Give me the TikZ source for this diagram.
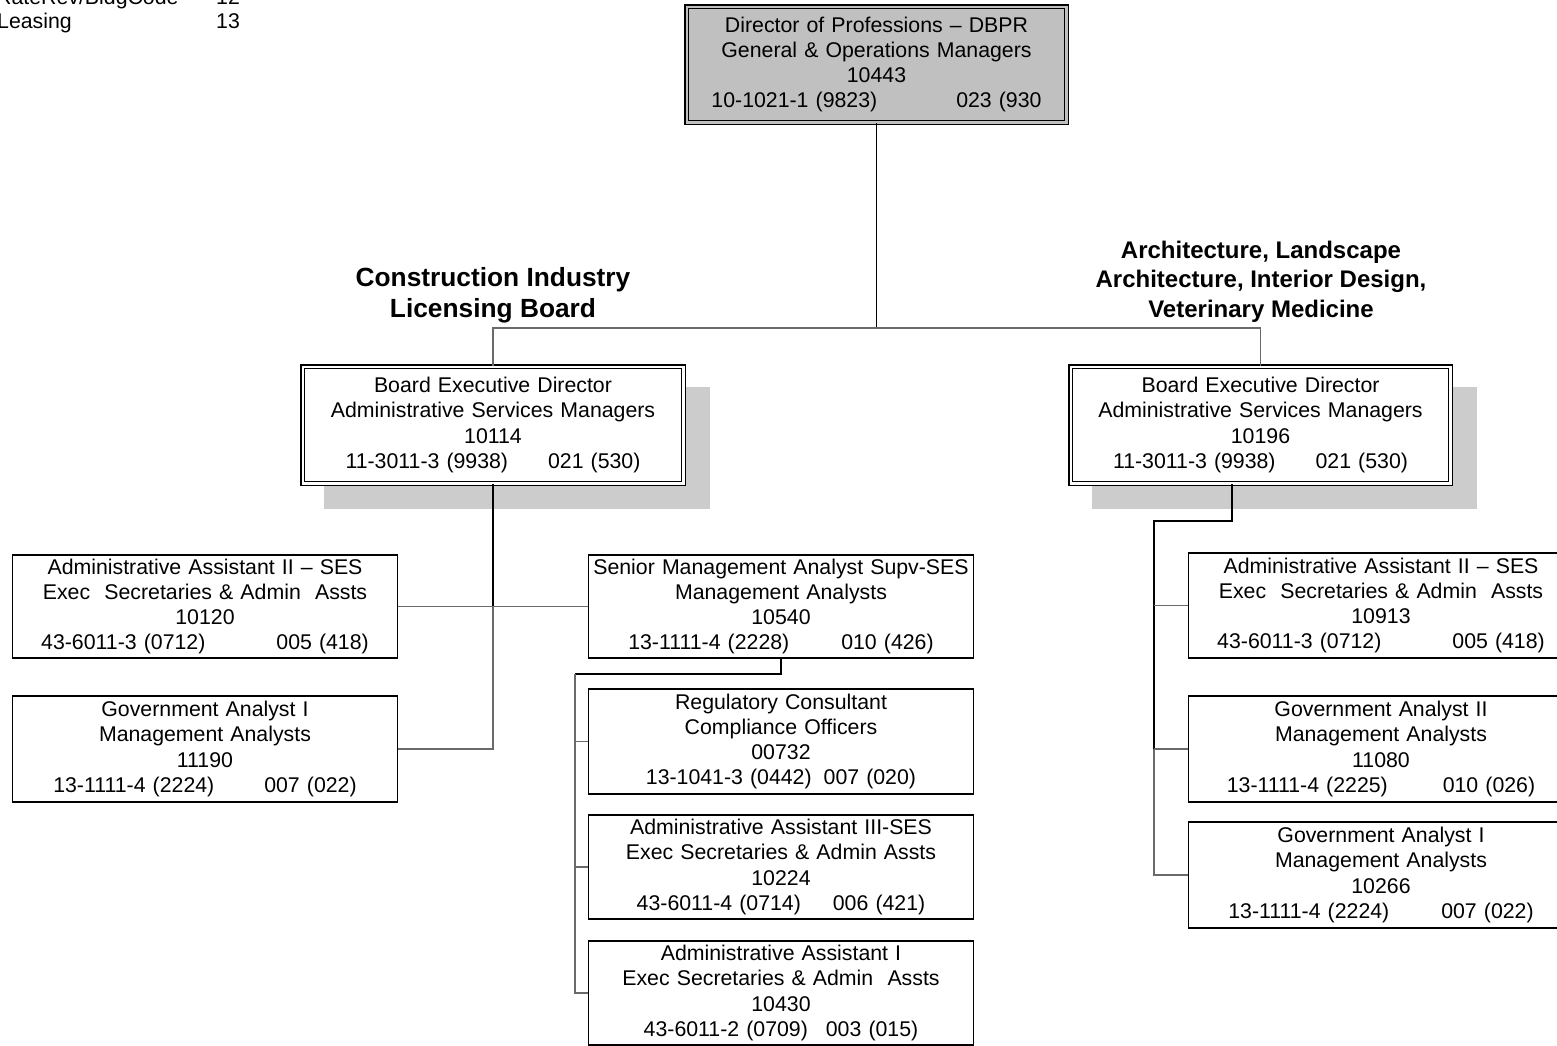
\documentclass[tikz,border=0pt]{standalone}
\usepackage{fontspec}
\setmainfont{Liberation Sans}
\definecolor{topfill}{HTML}{C0C0C0}
\definecolor{shadowgray}{HTML}{CCCCCC}
\definecolor{linkgray}{HTML}{6A6A6A}
\newcommand\codeline[3]{#1\hspace{#2pt}#3}
\tikzset{
  every node/.style={font=\fontsize{21.3}{25.2}\selectfont},
  post/.style={draw=black, line width=1.6pt, fill=white, inner sep=0pt,
    minimum width=385pt, text width=385pt, align=center},
  chief/.style={draw=black, line width=1.5pt, double=white, double distance=2.2pt,
    fill=white, inner sep=0pt, align=center},
  heading/.style={font=\fontsize{26.3}{30.5}\selectfont\bfseries, align=center, inner sep=0pt},
  subheading/.style={font=\fontsize{24}{29.5}\selectfont\bfseries, align=center, inner sep=0pt},
  legend/.style={inner sep=0pt, anchor=base west},
  trunk/.style={draw=black, line width=1.3pt},
  link/.style={draw=linkgray, line width=1.2pt},
}
\begin{document}
\begin{tikzpicture}[x=1pt, y=-1pt]
\useasboundingbox (0,0) rectangle (1557,1045);
\clip (0,0) rectangle (1557,1045);

% legend rows in the corner
\node[legend] (lg1) at (-4,4) {RateRev/BldgCode};
\node[legend] (lg1n) at (216,4) {12};
\node[legend] (lg2) at (-3,28.5) {Leasing};
\node[legend] (lg2n) at (216,28.5) {13};

% drop shadows behind the board executive directors
\fill[shadowgray] (324,387) rectangle (710,509);
\fill[shadowgray] (1092,387) rectangle (1477,509);

% director
\node[chief, fill=topfill, double=topfill, minimum width=379.8pt, minimum height=115.8pt,
      text width=379.8pt] (top) at (876.5,64.5)
  {Director of Professions – DBPR\\General \& Operations Managers\\10443\\
   \codeline{10-1021-1 (9823)}{79}{023 (930}};

% board headings
\node[heading] (hL) at (493,295) {Construction Industry\\Licensing Board};
\node[subheading] (hR) at (1261,281.5) {Architecture, Landscape\\Architecture, Interior Design,\\Veterinary Medicine};

% board executive directors
\node[chief, minimum width=380.8pt, minimum height=116.8pt, text width=380.8pt] (bedL) at (493,425)
  {Board Executive Director\\Administrative Services Managers\\10114\\
   \codeline{11-3011-3 (9938)}{40}{021 (530)}};
\node[chief, minimum width=379.8pt, minimum height=116.8pt, text width=379.8pt] (bedR) at (1260.5,425)
  {Board Executive Director\\Administrative Services Managers\\10196\\
   \codeline{11-3011-3 (9938)}{40}{021 (530)}};

% construction industry staff
\node[post, minimum height=103.5pt] (aaL) at (205,606.5)
  {Administrative Assistant II – SES\\Exec\ \ Secretaries \& Admin\ \ Assts\\10120\\
   \codeline{43-6011-3 (0712)}{71}{005 (418)}};
\node[post, minimum height=106.5pt] (gaL) at (205,749)
  {Government Analyst I\\Management Analysts\\11190\\
   \codeline{13-1111-4 (2224)}{50}{007 (022)}};
\node[post, minimum height=103.5pt] (sma) at (781,606.5)
  {Senior Management Analyst Supv-SES\\Management Analysts\\10540\\
   \codeline{13-1111-4 (2228)}{52}{010 (426)}};
\node[post, minimum height=105.5pt] (rc) at (781,741.5)
  {Regulatory Consultant\\Compliance Officers\\00732\\
   \codeline{13-1041-3 (0442)}{12}{007 (020)}};
\node[post, minimum height=104.5pt] (aa3) at (781,867)
  {Administrative Assistant III-SES\\Exec Secretaries \& Admin Assts\\10224\\
   \codeline{43-6011-4 (0714)}{32}{006 (421)}};
\node[post, minimum height=104.5pt] (aa1) at (781,993)
  {Administrative Assistant I\\Exec Secretaries \& Admin\ \ Assts\\10430\\
   \codeline{43-6011-2 (0709)}{18}{003 (015)}};

% architecture and veterinary staff
\node[post, minimum height=105.5pt] (aaR) at (1381,605.5)
  {Administrative Assistant II – SES\\Exec\ \ Secretaries \& Admin\ \ Assts\\10913\\
   \codeline{43-6011-3 (0712)}{71}{005 (418)}};
\node[post, minimum height=106.5pt] (gaR2) at (1381,749)
  {Government Analyst II\\Management Analysts\\11080\\
   \codeline{13-1111-4 (2225)}{55}{010 (026)}};
\node[post, minimum height=106.5pt] (gaR1) at (1381,875)
  {Government Analyst I\\Management Analysts\\10266\\
   \codeline{13-1111-4 (2224)}{52}{007 (022)}};

% junction points
\coordinate (hub) at (876.5,328);
\coordinate (sj) at (575,674);
\coordinate (rj) at (1154,521);

% director to boards
\draw[trunk] (top.south) -- (hub);
\draw[link] (bedL.north) |- (hub) -| (bedR.north);

% construction industry board
\draw[trunk] (bedL.south) -- (bedL.south |- aaL.east);
\draw[link] (bedL.south |- aaL.east) |- (gaL.east);
\draw[link] (aaL.east) -- (sma.west);
\draw[trunk] (sma.south) |- (sj);
\draw[link] (sj) |- (rc.west);
\draw[link] (sj) |- (aa3.west);
\draw[link] (sj) |- (aa1.west);

% architecture and veterinary board
\draw[trunk] ([xshift=-28.5pt]bedR.south) |- (rj) -- (rj |- gaR2.west);
\draw[link] (rj |- gaR2.west) |- (gaR1.west);
\draw[link] (rj |- aaR.west) -- (aaR.west);
\draw[link] (rj |- gaR2.west) -- (gaR2.west);
\end{tikzpicture}
\end{document}
